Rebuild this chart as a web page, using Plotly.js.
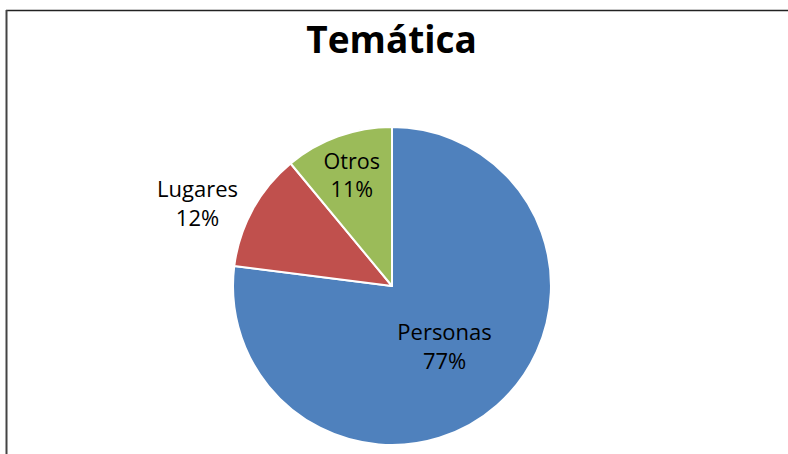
<!DOCTYPE html>
<html>
<head>
<meta charset="utf-8">
<script src="https://cdn.plot.ly/plotly-3.0.1.min.js"></script>
<style>html,body{margin:0;padding:0;background:#fff;}#chart{width:788px;height:454px;}</style>
</head>
<body>
<div id="chart"></div>
<script>
const categories = ["Personas", "Lugares", "Otros"];
const values = [77, 12, 11];
const colors = ["#4F81BD", "#C0504D", "#9BBB59"];
const textPositions = ["inside", "outside", "inside"];
const chartTitle = "Temática";

const labelFont = { family: "'Open Sans', sans-serif", size: 22, color: "#000000" };

const trace = {
  type: "pie",
  labels: categories,
  values: values,
  sort: false,
  direction: "clockwise",
  rotation: 0,
  marker: { colors: colors, line: { color: "#ffffff", width: 2 } },
  texttemplate: "%{label}<br>%{percent:.0%}",
  textposition: textPositions,
  insidetextorientation: "horizontal",
  textfont: labelFont,
  insidetextfont: labelFont,
  outsidetextfont: labelFont,
  showlegend: false,
  hoverinfo: "none",
  domain: { x: [0.2957, 0.6992], y: [0.0198, 0.7203] }
};

const layout = {
  width: 788, height: 454,
  margin: { l: 0, r: 0, t: 0, b: 0 },
  paper_bgcolor: "#ffffff",
  showlegend: false,
  title: {
    text: "<b>" + chartTitle + "</b>",
    font: { family: "'Open Sans', sans-serif", size: 37, color: "#000000" },
    x: 0.497, xanchor: "center",
    y: 0.912, yanchor: "middle"
  },
  shapes: [
    { type: "line", xref: "paper", yref: "paper", x0: 6/788, x1: 1, y0: 1 - 10.5/454, y1: 1 - 10.5/454, line: { color: "#222222", width: 1.5 } },
    { type: "line", xref: "paper", yref: "paper", x0: 6.5/788, x1: 6.5/788, y0: 0, y1: 1 - 10/454, line: { color: "#444444", width: 2 } }
  ]
};

Plotly.newPlot("chart", [trace], layout, { staticPlot: true, displayModeBar: false });
</script>
</body>
</html>
